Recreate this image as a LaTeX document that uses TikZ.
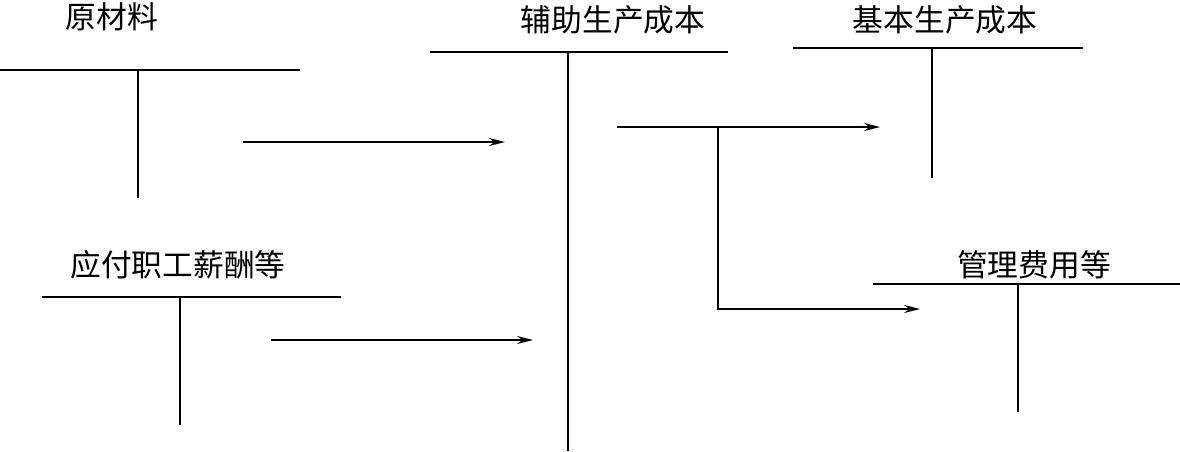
\documentclass[tikz,border=0pt]{standalone}
\usepackage{fontspec}
\newfontfamily\cjk{Noto Sans CJK SC}
\usetikzlibrary{arrows.meta}

\begin{document}
\begin{tikzpicture}[
  ttl/.style={font=\cjk\fontsize{17.5}{20}\selectfont, inner sep=0pt},
  bar/.style={line width=1.1pt},
  thinbar/.style={line width=0.6pt},
  stem/.style={line width=0.6pt},
  ar/.style={-{Stealth[length=3.2mm, width=1.6mm, inset=1.1mm]}, line width=1pt},
  thinar/.style={-{Stealth[length=3.2mm, width=1.6mm, inset=1.1mm]}, line width=0.6pt}
]
  \useasboundingbox (0,0) rectangle (23.6,-9.02);

  % account titles
  \node[ttl] (ycl) at (2.24,-0.34) {原材料};
  \node[ttl] (fz)  at (12.26,-0.4) {辅助生产成本};
  \node[ttl] (jb)  at (18.9,-0.4)  {基本生产成本};
  \node[ttl] (yf)  at (3.56,-5.3)  {应付职工薪酬等};
  \node[ttl] (gl)  at (20.68,-5.3) {管理费用等};

  % T-account corners
  \coordinate (yclL) at (0,-1.4);     \coordinate (yclR) at (6,-1.4);
  \coordinate (yclT) at (2.76,-1.4);  \coordinate (yclB) at (2.76,-3.96);
  \coordinate (fzL)  at (8.6,-1.04);  \coordinate (fzR)  at (14.56,-1.04);
  \coordinate (fzT)  at (11.36,-1.04); \coordinate (fzB) at (11.36,-9.02);
  \coordinate (jbL)  at (15.86,-0.96); \coordinate (jbR) at (21.66,-0.96);
  \coordinate (jbT)  at (18.64,-0.96); \coordinate (jbB) at (18.64,-3.56);
  \coordinate (yfL)  at (0.84,-5.94); \coordinate (yfR)  at (6.82,-5.94);
  \coordinate (yfT)  at (3.6,-5.94);  \coordinate (yfB)  at (3.6,-8.5);
  \coordinate (glL)  at (17.46,-5.68); \coordinate (glR) at (23.6,-5.68);
  \coordinate (glT)  at (20.36,-5.68); \coordinate (glB) at (20.36,-8.24);

  \draw[bar] (yclL)--(yclR);  \draw[stem] (yclT)--(yclB);
  \draw[bar] (fzL)--(fzR);    \draw[stem] (fzT)--(fzB);
  \draw[bar] (jbL)--(jbR);    \draw[stem] (jbT)--(jbB);
  \draw[bar] (yfL)--(yfR);    \draw[bar] (yfT)--(yfB);
  \draw[thinbar] (glL)--(glR); \draw[stem] (glT)--(glB);

  % transfers
  \coordinate (a1s) at (4.86,-2.84);  \coordinate (a1e) at (10.1,-2.84);
  \coordinate (a2s) at (5.42,-6.8);   \coordinate (a2e) at (10.66,-6.8);
  \coordinate (a3s) at (12.34,-2.54); \coordinate (a3e) at (17.6,-2.54);
  \coordinate (br)  at (14.36,-2.54); \coordinate (a4e) at (18.4,-6.18);

  \draw[ar] (a1s)--(a1e);
  \draw[ar] (a2s)--(a2e);
  \draw[thinar] (a3s)--(a3e);
  \draw[ar] (br)|-(a4e);
\end{tikzpicture}
\end{document}
